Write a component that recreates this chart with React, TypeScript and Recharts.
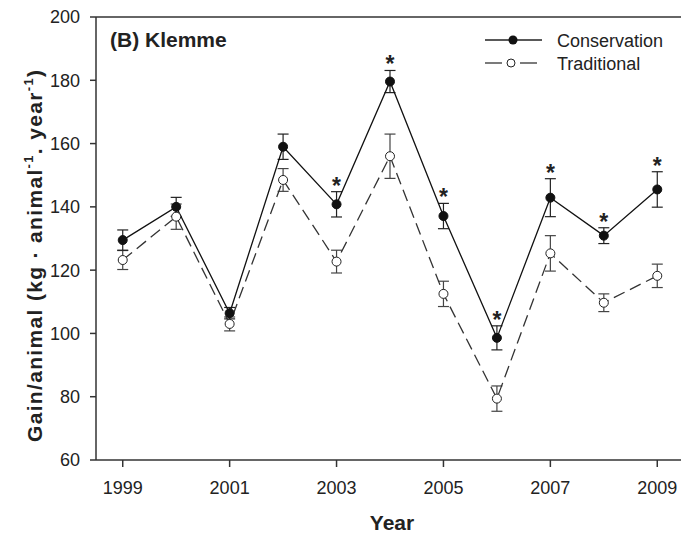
import React from "react";
import {
  LineChart,
  Line,
  XAxis,
  YAxis,
  ErrorBar,
  ReferenceLine,
  LabelList,
} from "recharts";

const years = [1999, 2000, 2001, 2002, 2003, 2004, 2005, 2006, 2007, 2008, 2009];
const conservation = [129.5, 140.0, 106.4, 159.0, 140.8, 179.6, 137.1, 98.6, 142.9, 130.9, 145.5];
const conservationErr = [3.2, 3.0, 1.8, 4.0, 4.0, 3.5, 4.0, 3.8, 6.0, 2.5, 5.6];
const traditional = [123.2, 136.9, 103.0, 148.5, 122.7, 156.0, 112.5, 79.4, 125.3, 109.7, 118.2];
const traditionalErr = [3.0, 4.0, 2.2, 3.6, 3.6, 7.0, 4.0, 4.0, 5.6, 2.8, 3.7];
const significant = [false, false, false, false, true, true, true, true, true, true, true];

const xTicks = [1999, 2001, 2003, 2005, 2007, 2009];
const yTicks = [60, 80, 100, 120, 140, 160, 180, 200];

const W = 700;
const H = 533;
const M = { top: 17, right: 16, bottom: 43, left: 0 };
const Y_AXIS_W = 96;
const X_AXIS_H = 30;
const PLOT_H = H - M.top - M.bottom - X_AXIS_H;
const PX_PER_UNIT = PLOT_H / (200 - 60);

const FONT = "'Liberation Sans', Arial, Helvetica, sans-serif";
const INK = "#222";

const data = years.map((year, i) => ({
  year,
  cons: conservation[i],
  consErr: conservationErr[i],
  trad: traditional[i],
  tradErr: traditionalErr[i],
  sig: significant[i],
}));

// asterisk sits just above the upper error cap
const Star = (props: any) => {
  const { x, y, index } = props;
  if (!data[index].sig) return null;
  const capY = y - data[index].consErr * PX_PER_UNIT;
  return (
    <text x={x} y={capY + 2} textAnchor="middle" fontSize={23} fontWeight="bold" fill={INK} fontFamily={FONT}>
      *
    </text>
  );
};

const YLabel = () => {
  const x = 42;
  const y = 256;
  return (
    <text
      x={x}
      y={y}
      transform={`rotate(-90, ${x}, ${y})`}
      textAnchor="middle"
      fontSize={21}
      fontWeight="bold"
      fill={INK}
      fontFamily={FONT}
      textLength={372}
      lengthAdjust="spacing"
    >
      Gain/animal (kg · animal
      <tspan dy={-9} fontSize={13}>-1</tspan>
      <tspan dy={9}>. year</tspan>
      <tspan dy={-9} fontSize={13}>-1</tspan>
      <tspan dy={9}>)</tspan>
    </text>
  );
};

const XLabel = (props: any) => {
  const vb = props.viewBox;
  return (
    <text
      x={vb.x + vb.width / 2 + 2}
      y={vb.y + 70}
      textAnchor="middle"
      fontSize={21}
      fontWeight="bold"
      fill={INK}
      fontFamily={FONT}
    >
      Year
    </text>
  );
};

const LegendBox = () => (
  <svg width={200} height={50} style={{ display: "block" }}>
    <line x1={5} y1={15} x2={62} y2={15} stroke={INK} strokeWidth={1.3} />
    <circle cx={33} cy={15} r={4.5} fill="#111" />
    <text x={77} y={21.5} fontSize={18} fill={INK} fontFamily={FONT}>
      Conservation
    </text>
    <line x1={5} y1={38} x2={22} y2={38} stroke="#333" strokeWidth={1.3} />
    <line x1={40} y1={38} x2={57} y2={38} stroke="#333" strokeWidth={1.3} />
    <circle cx={31} cy={38} r={4} fill="#fff" stroke="#222" strokeWidth={1} />
    <text x={77} y={44.5} fontSize={18} fill={INK} fontFamily={FONT}>
      Traditional
    </text>
  </svg>
);

export default function App() {
  const tick = { fill: INK, fontSize: 18, fontFamily: FONT };
  return (
    <div
      style={{
        position: "absolute",
        left: 0,
        top: 0,
        width: 681,
        height: 533,
        overflow: "hidden",
        background: "#fff",
        fontFamily: FONT,
      }}
    >
      <LineChart width={W} height={H} data={data} margin={M}>
        <XAxis
          dataKey="year"
          type="number"
          domain={[1998.5, 2009.5]}
          ticks={xTicks}
          allowDataOverflow
          height={X_AXIS_H}
          tick={tick}
          tickSize={7}
          tickMargin={14}
          stroke="#333"
          strokeWidth={1.5}
          label={<XLabel />}
        />
        <YAxis
          type="number"
          domain={[60, 200]}
          ticks={yTicks}
          allowDataOverflow
          width={Y_AXIS_W}
          tick={tick}
          tickSize={6}
          tickMargin={10}
          stroke="#333"
          strokeWidth={1.5}
          label={<YLabel />}
        />
        <ReferenceLine y={200} stroke="#333" strokeWidth={1.5} />
        <Line
          dataKey="trad"
          stroke="#333"
          strokeWidth={1.3}
          strokeDasharray="12 6"
          dot={{ r: 4.5, fill: "#fff", stroke: "#222", strokeWidth: 1, strokeDasharray: "" }}
          isAnimationActive={false}
        >
          <ErrorBar dataKey="tradErr" direction="y" width={5.5} stroke="#444" strokeWidth={1.2} isAnimationActive={false} />
        </Line>
        <Line
          dataKey="cons"
          stroke="#111"
          strokeWidth={1.3}
          dot={{ r: 4.5, fill: "#111", stroke: "#111", strokeWidth: 1 }}
          isAnimationActive={false}
        >
          <ErrorBar dataKey="consErr" direction="y" width={5.5} stroke="#222" strokeWidth={1.2} isAnimationActive={false} />
          <LabelList dataKey="cons" content={<Star />} />
        </Line>
      </LineChart>
      <div style={{ position: "absolute", left: 110, top: 29, fontSize: 21, lineHeight: "21px", fontWeight: "bold", color: INK }}>
        (B) Klemme
      </div>
      <div style={{ position: "absolute", left: 480, top: 25 }}>
        <LegendBox />
      </div>
    </div>
  );
}
